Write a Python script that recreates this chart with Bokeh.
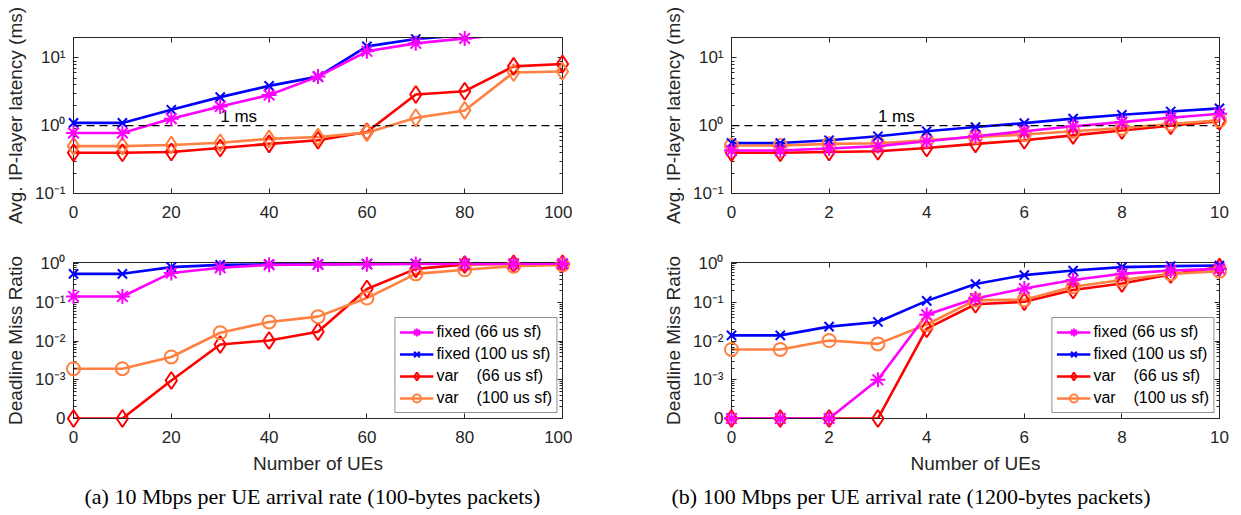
from bokeh.plotting import figure
from bokeh.models import (Range1d, FixedTicker, LinearAxis, LogAxis, Label,
                          Legend, LegendItem, Title, Span)
from bokeh.layouts import column, row
from bokeh.embed import file_html
from bokeh.resources import INLINE

# ---------------- data ----------------
ues_a = [0, 10, 20, 30, 40, 50, 60, 70, 80, 90, 100]
ues_b = [0, 1, 2, 3, 4, 5, 6, 7, 8, 9, 10]

series_names = ["fixed (66 us sf)", "fixed (100 us sf)",
                "var\u00a0\u00a0\u00a0\u00a0(66 us sf)", "var\u00a0\u00a0\u00a0\u00a0(100 us sf)"]
series_colors = ["#FF00FF", "#0000FF", "#FF0000", "#FF8040"]

# (a) 10 Mbps, latency (ms)
lat_a_fixed66 = [0.78, 0.78, 1.27, 1.92, 2.83, 5.3, 12.5, 16.4, 19.4, 22.6]
lat_a_fixed100 = [1.1, 1.1, 1.72, 2.64, 3.87, 5.3, 14.8, 19.0, 21.6]
lat_a_var66 = [0.40, 0.40, 0.41, 0.47, 0.54, 0.61, 0.81, 2.89, 3.23, 7.5, 8.15]
lat_a_var100 = [0.50, 0.50, 0.52, 0.56, 0.64, 0.68, 0.79, 1.31, 1.68, 6.1, 6.3]

# (a) deadline miss ratio
miss_a_fixed66 = [0.143, 0.143, 0.58, 0.79, 0.94, 0.96, 0.98, 0.99, 1.0, 1.0, 1.0]
miss_a_fixed100 = [0.55, 0.55, 0.82, 0.94, 0.97, 0.98, 0.99, 1.0, 1.0, 1.0, 1.0]
miss_a_var66 = [0, 0, 0.00096, 0.0082, 0.0104, 0.0175, 0.223, 0.74, 0.96, 1.0, 1.0]
miss_a_var100 = [0.00194, 0.00194, 0.0039, 0.0165, 0.0313, 0.043, 0.13, 0.55, 0.70, 0.87, 0.94]

# (b) 100 Mbps, latency (ms)
lat_b_fixed66 = [0.43, 0.43, 0.46, 0.50, 0.59, 0.70, 0.83, 0.98, 1.13, 1.31, 1.50]
lat_b_fixed100 = [0.556, 0.556, 0.61, 0.70, 0.83, 0.955, 1.09, 1.27, 1.45, 1.62, 1.80]
lat_b_var66 = [0.40, 0.40, 0.41, 0.42, 0.47, 0.54, 0.61, 0.72, 0.85, 1.0, 1.17]
lat_b_var100 = [0.51, 0.51, 0.54, 0.55, 0.61, 0.68, 0.74, 0.83, 0.92, 1.06, 1.20]

# (b) deadline miss ratio
miss_b_fixed66 = [0, 0, 0, 0.001, 0.048, 0.127, 0.23, 0.38, 0.55, 0.67, 0.74]
miss_b_fixed100 = [0.0141, 0.0141, 0.0237, 0.0313, 0.11, 0.30, 0.51, 0.67, 0.82, 0.87, 0.90]
miss_b_var66 = [0, 0, 0, 0, 0.021, 0.09, 0.104, 0.21, 0.31, 0.53, 0.82]
miss_b_var100 = [0.0061, 0.0061, 0.0104, 0.0085, 0.027, 0.115, 0.117, 0.256, 0.38, 0.55, 0.64]

lat_yticks = [0.1, 1, 10]
lat_ylabels = {0.1: "10\u207b\u00b9", 1: "10\u2070", 10: "10\u00b9"}
miss_yticks = [1e-4, 1e-3, 1e-2, 1e-1, 1]
miss_ylabels = {1e-4: "0", 1e-3: "10\u207b\u00b3", 1e-2: "10\u207b\u00b2",
                1e-1: "10\u207b\u00b9", 1: "10\u2070"}
ZERO_AT = 1e-4   # where a miss ratio of 0 is drawn

captions = ["(a) 10 Mbps per UE arrival rate (100-bytes packets)",
            "(b) 100 Mbps per UE arrival rate (1200-bytes packets)"]

# ---------------- style ----------------
AX = "#262626"
FONT = "Liberation Sans"
LW = 2.6


def minor_log(lo_exp, hi_exp):
    return [k * 10.0 ** e for e in range(lo_exp, hi_exp) for k in range(2, 10)]


def style_axis(ax, show_labels=True):
    ax.axis_line_color = AX
    ax.major_tick_line_color = AX
    ax.minor_tick_line_color = AX
    ax.major_tick_in = 5
    ax.major_tick_out = 0
    ax.minor_tick_in = 3
    ax.minor_tick_out = 0
    ax.major_label_text_font = FONT
    ax.axis_label_text_font = FONT
    ax.axis_label_text_font_size = "19px"
    ax.axis_label_text_font_style = "normal"
    ax.axis_label_text_color = AX
    if show_labels:
        ax.major_label_text_font_size = "17px"
        ax.major_label_text_color = AX
    else:
        ax.major_label_text_font_size = "1px"
        ax.major_label_text_color = None
        ax.major_label_standoff = 0


def make_panel(width, height, xr, yr, borders, xticks, yticks, yminor, ylabels, ylabel, xlabel=None):
    bl, br, bt, bb = borders
    p = figure(width=width, height=height, x_range=Range1d(*xr), y_range=Range1d(*yr),
               y_axis_type="log", output_backend="svg", toolbar_location=None,
               min_border_left=bl, min_border_right=br, min_border_top=bt, min_border_bottom=bb)
    p.grid.visible = False
    p.outline_line_color = AX
    p.background_fill_color = "white"
    p.border_fill_color = "white"
    xt = FixedTicker(ticks=xticks, minor_ticks=[])
    yt = FixedTicker(ticks=yticks, minor_ticks=yminor)
    p.xaxis.ticker = xt
    p.yaxis.ticker = yt
    p.yaxis.major_label_overrides = ylabels
    for ax in p.xaxis + p.yaxis:
        style_axis(ax)
    p.xaxis.major_label_standoff = 12
    p.yaxis.major_label_standoff = 8
    p.yaxis.axis_label = ylabel
    p.yaxis.axis_label_standoff = 6
    if xlabel:
        p.xaxis.axis_label = xlabel
        p.xaxis.axis_label_standoff = 7
    top = LinearAxis(ticker=xt)
    style_axis(top, False)
    p.add_layout(top, "above")
    right = LogAxis(ticker=yt)
    style_axis(right, False)
    p.add_layout(right, "right")
    return p


def add_series(p, xs, ys, color, marker, size, ymax):
    r_line = p.line(xs[:len(ys)], ys, line_color=color, line_width=LW)
    mx = [x for x, y in zip(xs, ys) if y <= ymax]
    my = [y for y in ys if y <= ymax]
    r_mark = p.scatter(mx, my, marker=marker, size=size, line_color=color,
                       fill_color=None, line_width=2, level="overlay")
    return r_line, r_mark


marker_size = {"asterisk": 15, "x": 13, "diamond": 17, "circle": 13}

W_L, W_R = 572, 657
H_T, H_B = 228, 286
B_L = (73, 10, 37, 35)
B_R = (159, 10, 37, 35)
B_LB = (73, 10, 34, 96)
B_RB = (159, 10, 34, 96)

lat_range = (0.1, 20)
miss_range = (1e-4, 1.08)
lat_minor = minor_log(-1, 2)
miss_minor = minor_log(-4, 0)


def zero_mapped(vals):
    return [v if v > 0 else ZERO_AT for v in vals]


def build_column(xs, xr, xticks, lat_series, miss_series, lat_markers, caption, borders_t, borders_b,
                 w, ms_x, cap_offset):
    pt = make_panel(w, H_T, xr, lat_range, borders_t, xticks, lat_yticks, lat_minor, lat_ylabels,
                    "Avg. IP-layer latency (ms)")
    pt.add_layout(Span(location=1, dimension="width", line_color="black", line_dash="8 5", line_width=1.3))
    draw_order = [2, 3, 1, 0]
    for i in draw_order:
        add_series(pt, xs, lat_series[i], series_colors[i], lat_markers[i], marker_size[lat_markers[i]],
                   lat_range[1])
    pt.add_layout(Label(x=ms_x, y=1, text="1 ms", text_font=FONT, text_font_size="17px",
                        text_color="black", text_baseline="bottom", y_offset=0))

    pb = make_panel(w, H_B, xr, miss_range, borders_b, xticks, miss_yticks, miss_minor, miss_ylabels,
                    "Deadline Miss Ratio", xlabel="Number of UEs")
    miss_markers = ["asterisk", "x", "diamond", "circle"]
    items = {}
    for i in draw_order:
        items[i] = add_series(pb, xs, zero_mapped(miss_series[i]), series_colors[i], miss_markers[i],
                              marker_size[miss_markers[i]], miss_range[1])
    legend = Legend(items=[LegendItem(label=series_names[i], renderers=list(items[i])) for i in range(4)],
                    location="bottom_right", margin=5, padding=4, spacing=2,
                    label_text_font=FONT, label_text_font_size="16px", label_text_color="black",
                    glyph_width=34, glyph_height=20, label_height=20, label_standoff=3,
                    border_line_color=AX, border_line_width=1, background_fill_color="white",
                    background_fill_alpha=1.0)
    pb.add_layout(legend)
    t = Title(text=caption, align="left", offset=cap_offset, standoff=10,
              text_font="Liberation Serif", text_font_size="22px",
              text_font_style="normal", text_color="black")
    pb.add_layout(t, "below")
    return pt, pb


lat_a = [lat_a_fixed66, lat_a_fixed100, lat_a_var66, lat_a_var100]
miss_a = [miss_a_fixed66, miss_a_fixed100, miss_a_var66, miss_a_var100]
lat_b = [lat_b_fixed66, lat_b_fixed100, lat_b_var66, lat_b_var100]
miss_b = [miss_b_fixed66, miss_b_fixed100, miss_b_var66, miss_b_var100]

pa_t, pa_b = build_column(ues_a, (0, 100), [0, 20, 40, 60, 80, 100], lat_a, miss_a,
                          ["asterisk", "x", "diamond", "diamond"], captions[0], B_L, B_LB, W_L, 30, 11)
pb_t, pb_b = build_column(ues_b, (0, 10), [0, 2, 4, 6, 8, 10], lat_b, miss_b,
                          ["asterisk", "x", "diamond", "circle"], captions[1], B_R, B_RB, W_R, 3, -60)

layout = column(row(pa_t, pb_t), row(pa_b, pb_b))
open("out.html", "w").write(file_html(layout, INLINE))
